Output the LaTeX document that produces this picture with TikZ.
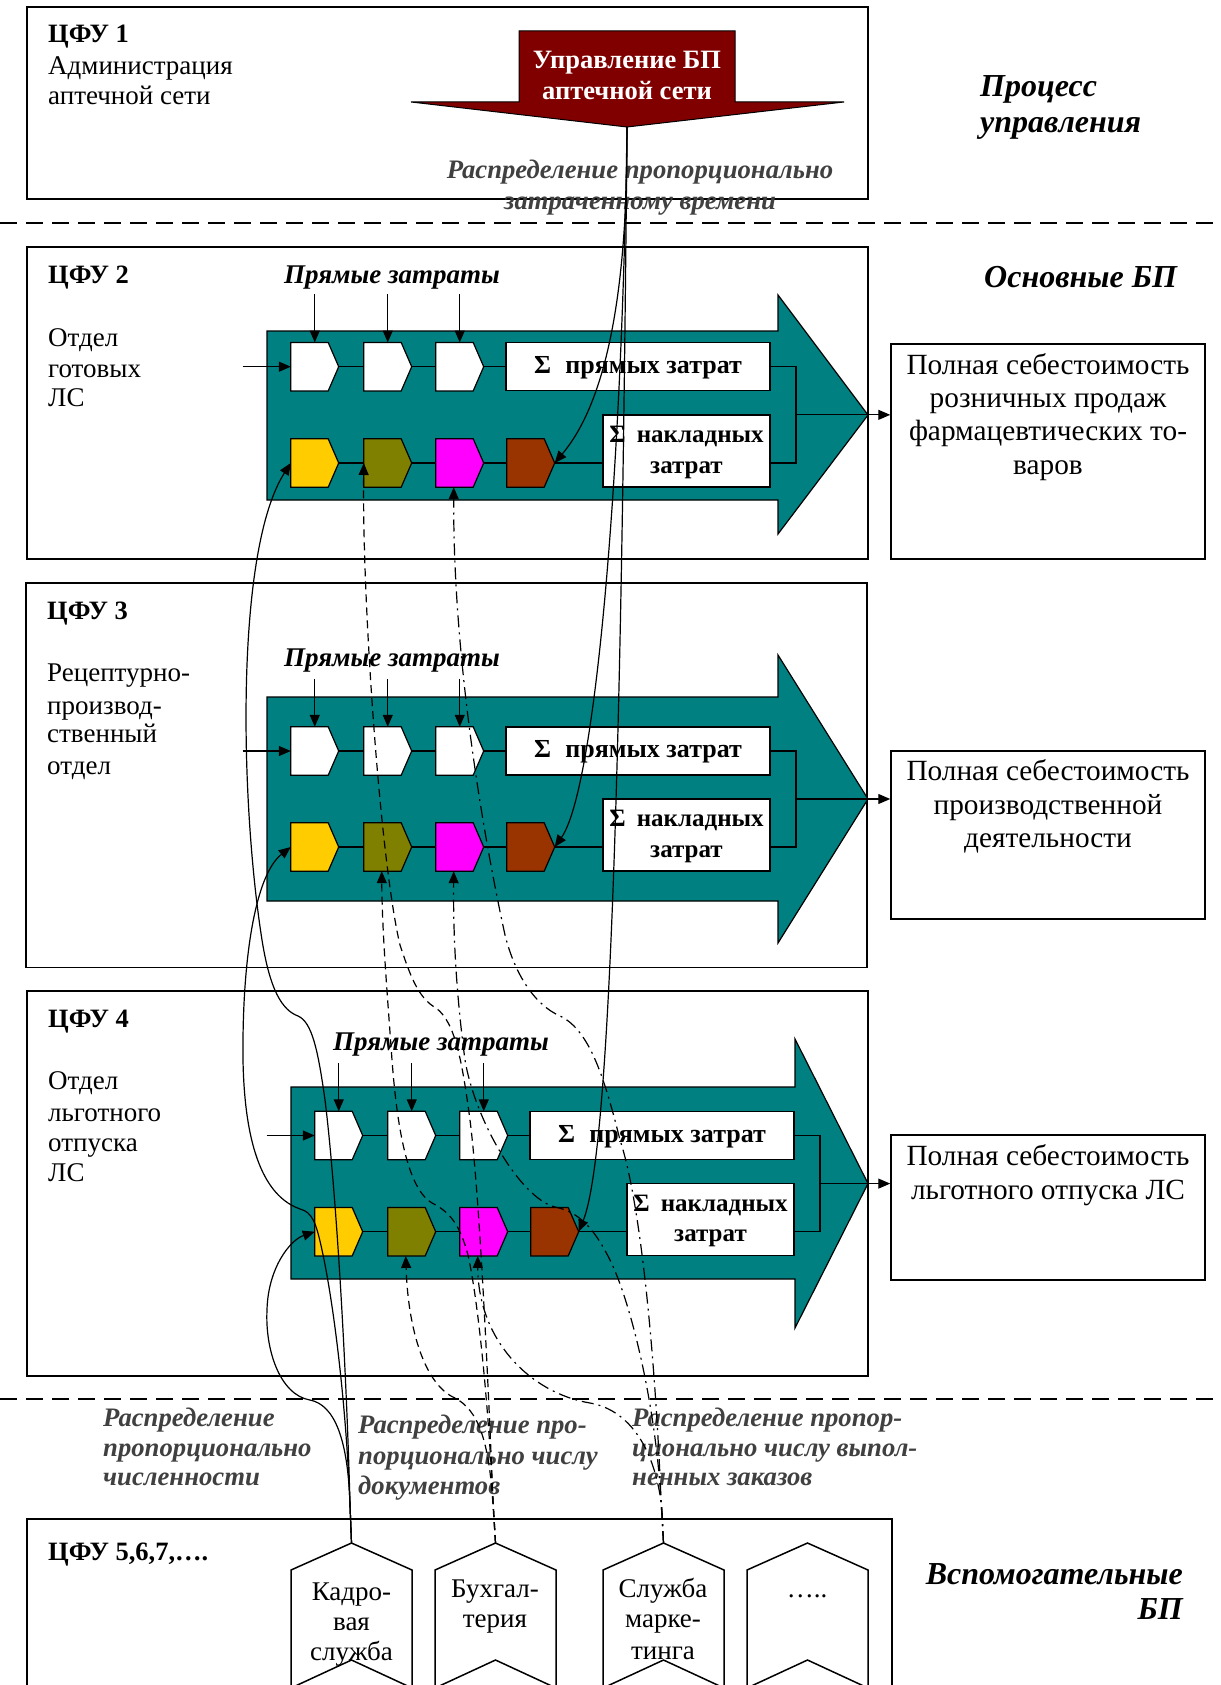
\documentclass[tikz,border=0pt]{standalone}
\usepackage{fontspec}
\setmainfont{Liberation Serif}
\usetikzlibrary{arrows.meta}

\definecolor{flowteal}{RGB}{0,128,128}
\definecolor{mgmtred}{RGB}{128,0,0}
\definecolor{stageyellow}{RGB}{255,204,0}
\definecolor{stageolive}{RGB}{128,128,0}
\definecolor{stagemagenta}{RGB}{255,0,255}
\definecolor{stagebrown}{RGB}{153,51,0}
\definecolor{notegray}{RGB}{64,64,64}

\tikzset{
  cfubox/.style={draw=black, line width=1.5pt},
  flow/.style={fill=flowteal, draw=black, line width=1.2pt},
  sumbox/.style={fill=white, draw=black, line width=1.2pt, inner sep=0pt},
  link/.style={line width=1.2pt},
  arr/.style={-{Triangle[length=12pt,width=10pt]}},
  txt/.style={inner sep=0pt, text height=18pt, text depth=5pt},
  reg/.style={txt, font=\fontsize{27}{30}\selectfont},
  rbt/.style={txt, font=\fontsize{29.3}{33}\selectfont},
  bld/.style={txt, font=\fontsize{26.5}{30}\selectfont\bfseries},
  sumtxt/.style={txt, font=\fontsize{26}{30}\selectfont\bfseries},
  ovtxt/.style={txt, font=\fontsize{25}{30}\selectfont\bfseries},
  bit/.style={txt, font=\fontsize{27}{30}\selectfont\bfseries\itshape},
  sidehead/.style={txt, font=\fontsize{32}{36}\selectfont\bfseries\itshape},
  note/.style={txt, text=notegray, font=\fontsize{26.7}{30}\selectfont\bfseries\itshape},
  stagebase/.style={inner sep=0pt, minimum width=47.5pt, minimum height=48pt},
  dashedlink/.style={link, dash pattern=on 8pt off 5pt},
  dotdashlink/.style={link, dash pattern=on 12pt off 5pt on 2pt off 5pt},
  divider/.style={line width=1.8pt, dash pattern=on 17pt off 9pt},
  chev/.style={draw=black, line width=1.5pt, fill=white},
}

% one step of a process: a box with a pointed right side
\newcommand{\stagebox}[4]{%
  \node[stagebase] (#1) at (#2+23.75,#3) {};%
  \filldraw[fill=#4, draw=black, line width=1.2pt]
    (#1.north west) -- ([xshift=-10.5pt]#1.north east) -- (#1.east)
    -- ([xshift=-10.5pt]#1.south east) -- (#1.south west) -- cycle;%
}

% direct-cost row and overhead row of one main process
\newcommand{\costrows}[4]{%
  \stagebox{#1a}{291+#2}{#3}{white}%
  \stagebox{#1b}{364+#2}{#3}{white}%
  \stagebox{#1c}{436+#2}{#3}{white}%
  \stagebox{#1y}{291+#2}{#4}{stageyellow}%
  \stagebox{#1o}{364+#2}{#4}{stageolive}%
  \stagebox{#1m}{436+#2}{#4}{stagemagenta}%
  \stagebox{#1r}{507+#2}{#4}{stagebrown}%
  \node[sumbox, minimum width=264pt, minimum height=48pt] (#1d) at (638+#2,#3) {};%
  \node[sumtxt] (#1dt) at (638+#2,#3) {Σ\hspace{0.55em}прямых затрат};%
  \node[sumbox, minimum width=167pt, minimum height=72pt] (#1v) at (686.5+#2,#4-12) {};%
  \node[ovtxt] (#1vt) at (686.5+#2,#4-27) {Σ\hspace{0.45em}накладных};%
  \node[ovtxt] (#1vu) at (686.5+#2,#4+3.5) {затрат};%
  \coordinate (#1j1) at (796+#2,#3);%
  \coordinate (#1j2) at (796+#2,#4);%
  \coordinate (#1jm) at (796+#2,{(#3+#4)/2});%
  \coordinate (#1in) at (242.7+#2,#3);%
  \draw[link] (#1a.east) -- (#1b.west) (#1b.east) -- (#1c.west) (#1c.east) -- (#1d.west);%
  \draw[link] (#1y.east) -- (#1o.west) (#1o.east) -- (#1m.west) (#1m.east) -- (#1r.west)
    (#1r.east) -- (#1v.west |- #1r.east);%
  \draw[link] (#1d.east) -- (#1j1) -- (#1j2) -- (#1v.east |- #1j2);%
  \draw[link,arr] (#1in) -- (#1a.west);%
  \foreach \k in {a,b,c} {\draw[link,arr] ([yshift=48pt]#1\k.north) -- (#1\k.north);}%
}

% a supporting service: an upward chevron with its apex named
\newcommand{\servicebox}[2]{%
  \filldraw[chev] (#2,1700) -- (#2,1570) -- (#2+60.5,1543) -- (#2+121,1570) -- (#2+121,1700);%
  \draw[chev] (#2,1688) -- (#2+60.5,1660) -- (#2+121,1688);%
  \coordinate (#1) at (#2+60.5,1543);%
}

\begin{document}
\begin{tikzpicture}[x=1pt,y=-1pt]
\useasboundingbox (0,0) rectangle (1220,1685);
\clip (0,0) rectangle (1220,1685);
\fill[white] (0,0) rectangle (1220,1685);

% level separators
\draw[divider] (0,223.3) -- (1220,223.3);
\draw[divider] (0,1399) -- (1220,1399);

% responsibility centres
\draw[cfubox] (27,7) rectangle (868,199);
\draw[cfubox] (27,247) rectangle (868,559);
\draw[cfubox] (26,583) rectangle (867,967.5);
\draw[cfubox] (27,991) rectangle (868,1376);
\draw[cfubox] (27,1519) rectangle (892,1700);

% management process arrow
\filldraw[fill=mgmtred, draw=black, line width=1pt]
  (519,31) -- (735,31) -- (735,102) -- (844,102) -- (627,127) -- (411,102) -- (519,102) -- cycle;
\coordinate (mgmt) at (627,127);
\node[bld, text=white] (mg1) at (627,62) {Управление БП};
\node[bld, text=white] (mg2) at (627,93) {аптечной сети};

% centre 1 texts
\node[bld, anchor=west] (c1t) at (48,36.5) {ЦФУ 1};
\node[reg, anchor=west] (c1a) at (48,68.5) {Администрация};
\node[reg, anchor=west] (c1b) at (48,98.5) {аптечной сети};
\node[note] (n1a) at (640,172) {Распределение пропорционально};
\node[note] (n1b) at (640,203) {затраченному времени};
\node[sidehead, anchor=west] (h1a) at (980,90.5) {Процесс};
\node[sidehead, anchor=west] (h1b) at (980,126) {управления};

% main process arrows
\filldraw[flow] (267,331) -- (778,331) -- (778,295) -- (868,415) -- (778,534) -- (778,500) -- (267,500) -- cycle;
\filldraw[flow] (267,697) -- (778,697) -- (778,655) -- (868,799) -- (778,943) -- (778,901) -- (267,901) -- cycle;
\filldraw[flow] (291,1087) -- (795,1087) -- (795,1039) -- (868,1183.5) -- (795,1328) -- (795,1279) -- (291,1279) -- cycle;

\costrows{p2}{0}{366.7}{463}
\costrows{p3}{0}{751}{847}
\costrows{p4}{24}{1135.5}{1231.7}

% centre 2 texts
\node[bld, anchor=west] (c2t) at (48,277.5) {ЦФУ 2};
\node[reg, anchor=west] (c2a) at (48,339.5) {Отдел};
\node[reg, anchor=west] (c2b) at (48,370.5) {готовых};
\node[reg, anchor=west] (c2c) at (48,399.5) {ЛС};
\node[bit] (d2) at (392,277) {Прямые затраты};
\node[sidehead, anchor=west] (h2) at (984,281) {Основные БП};

% centre 3 texts
\node[bld, anchor=west] (c3t) at (47,612.5) {ЦФУ 3};
\node[reg, anchor=west] (c3a) at (47,675) {Рецептурно-};
\node[reg, anchor=west] (c3b) at (47,707.5) {производ-};
\node[reg, anchor=west] (c3c) at (47,736) {ственный};
\node[reg, anchor=west] (c3d) at (47,767.5) {отдел};
\node[bit] (d3) at (392,660) {Прямые затраты};

% centre 4 texts
\node[bld, anchor=west] (c4t) at (48,1021) {ЦФУ 4};
\node[reg, anchor=west] (c4a) at (48,1083) {Отдел};
\node[reg, anchor=west] (c4b) at (48,1115) {льготного};
\node[reg, anchor=west] (c4c) at (48,1145) {отпуска};
\node[reg, anchor=west] (c4d) at (48,1175) {ЛС};
\node[bit] (d4) at (441,1043.5) {Прямые затраты};

% full cost results
\node[cfubox, minimum width=314pt, minimum height=215pt] (rb1) at (1048,451.5) {};
\node[cfubox, minimum width=314pt, minimum height=168pt] (rb2) at (1048,835) {};
\node[cfubox, minimum width=314pt, minimum height=145pt] (rb3) at (1048,1207.5) {};
\draw[link,arr] (p2jm) -- (rb1.west |- p2jm);
\draw[link,arr] (p3jm) -- (rb2.west |- p3jm);
\draw[link,arr] (p4jm) -- (rb3.west |- p4jm);
\node[rbt] (r1a) at (1048,368) {Полная себестоимость};
\node[rbt] (r1b) at (1048,401) {розничных продаж};
\node[rbt] (r1c) at (1048,434) {фармацевтических то-};
\node[rbt] (r1d) at (1048,468) {варов};
\node[rbt] (r2a) at (1048,774) {Полная себестоимость};
\node[rbt] (r2b) at (1048,808) {производственной};
\node[rbt] (r2c) at (1048,841) {деятельности};
\node[rbt] (r3a) at (1048,1159) {Полная себестоимость};
\node[rbt] (r3b) at (1048,1193) {льготного отпуска ЛС};

% supporting services
\servicebox{hr}{291}
\servicebox{hb}{435}
\servicebox{hm}{603}
\servicebox{hx}{747}
\node[bld, anchor=west] (c5t) at (48,1553.5) {ЦФУ 5,6,7,….};
\node[reg] (s1a) at (351.5,1594) {Кадро-};
\node[reg] (s1b) at (351.5,1624) {вая};
\node[reg] (s1c) at (351.5,1654) {служба};
\node[reg] (s2a) at (495,1591) {Бухгал-};
\node[reg] (s2b) at (495,1621) {терия};
\node[reg] (s3a) at (663,1591) {Служба};
\node[reg] (s3b) at (663,1621) {марке-};
\node[reg] (s3c) at (663,1653) {тинга};
\node[reg] (s4a) at (807,1591) {…..};
\node[sidehead, anchor=east] (h3a) at (1183,1578) {Вспомогательные};
\node[sidehead, anchor=east] (h3b) at (1183,1613) {БП};

\node[note, anchor=west] (n2a) at (103,1420) {Распределение};
\node[note, anchor=west] (n2b) at (103,1450) {пропорционально};
\node[note, anchor=west] (n2c) at (103,1479) {численности};
\node[note, anchor=west] (n3a) at (358,1427) {Распределение про-};
\node[note, anchor=west] (n3b) at (358,1458) {порционально числу};
\node[note, anchor=west] (n3c) at (358,1488) {документов};
\node[note, anchor=west] (n4a) at (632,1420) {Распределение пропор-};
\node[note, anchor=west] (n4b) at (632,1450) {ционально числу выпол-};
\node[note, anchor=west] (n4c) at (632,1479) {ненных заказов};

% management costs, by time spent
\draw[link,arr] (mgmt) .. controls (628,330) and (595,415) .. (p2r.east);
\draw[link,arr] (mgmt) .. controls (622,480) and (595,790) .. (p3r.east);
\draw[link,arr] (mgmt) .. controls (622,700) and (612,1150) .. (p4r.east);

% personnel service, by headcount
\draw[link,arr] (hr) -- (350,1505) .. controls (348,1440) and (335,1405) .. (310,1400)
  .. controls (280,1395) and (265,1350) .. (267,1310)
  .. controls (268,1268) and (290,1240) .. (p4y.west);
\draw[link,arr] (hr) -- (350,1505) .. controls (346,1400) and (333,1300) .. (322,1250)
  .. controls (316,1222) and (312,1212) .. (300,1209)
  .. controls (275,1200) and (245,1170) .. (243,1060)
  .. controls (242,960) and (255,875) .. (p3y.west);
\draw[link,arr] (hr) -- (350,1505) .. controls (346,1350) and (335,1180) .. (325,1100)
  .. controls (318,1050) and (312,1022) .. (298,1016)
  .. controls (282,1010) and (270,990) .. (262,940)
  .. controls (240,800) and (235,550) .. (p2y.west);

% accounting, by number of documents
\draw[dashedlink,arr] (hb) -- (493,1500) .. controls (488,1380) and (480,1200) .. (470,1120)
  .. controls (462,1060) and (455,1022) .. (436,1008)
  .. controls (418,998) and (410,975) .. (400,945)
  .. controls (380,860) and (362,600) .. (p2o.west);
\draw[dashedlink,arr] (hb) -- (493,1500) .. controls (488,1400) and (478,1300) .. (468,1255)
  .. controls (460,1225) and (450,1212) .. (432,1203)
  .. controls (410,1190) and (398,1140) .. (392,1060)
  .. controls (387,990) and (382,930) .. ([xshift=-6pt]p3o.south);
\draw[dashedlink,arr] (hb) -- (493,1505) .. controls (489,1440) and (478,1410) .. (455,1398)
  .. controls (425,1385) and (408,1330) .. ([xshift=-6pt]p4o.south);

% marketing, by orders fulfilled
\draw[dotdashlink,arr] (hm) -- (661,1500) .. controls (655,1350) and (640,1200) .. (620,1140)
  .. controls (605,1080) and (590,1030) .. (560,1016)
  .. controls (535,1005) and (515,975) .. (505,935)
  .. controls (480,820) and (453,650) .. ([xshift=-6pt]p2m.south);
\draw[dotdashlink,arr] (hm) -- (661,1500) .. controls (655,1400) and (630,1300) .. (610,1260)
  .. controls (595,1230) and (580,1212) .. (555,1207)
  .. controls (520,1198) and (475,1120) .. (465,1060)
  .. controls (457,1000) and (453,940) .. ([xshift=-6pt]p3m.south);
\draw[dotdashlink,arr] (hm) -- (662,1510) .. controls (656,1450) and (630,1410) .. (590,1403)
  .. controls (530,1393) and (478,1340) .. ([xshift=-6pt]p4m.south);
\end{tikzpicture}
\end{document}
